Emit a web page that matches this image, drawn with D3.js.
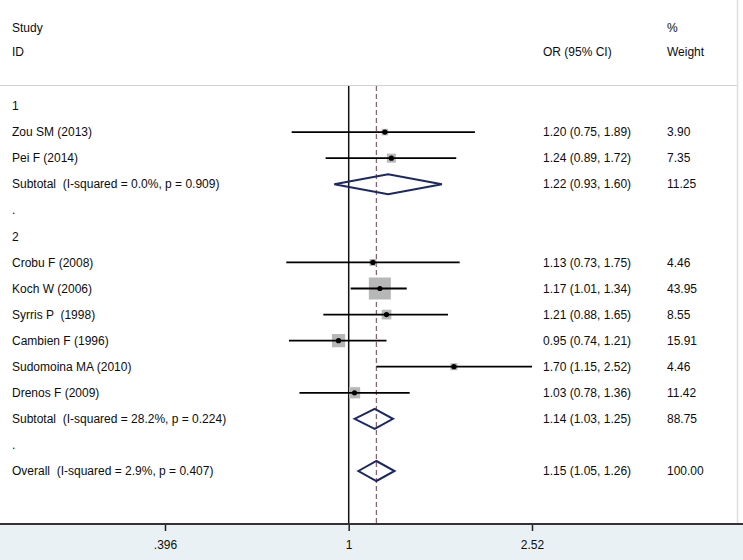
<!DOCTYPE html>
<html>
<head>
<meta charset="utf-8">
<script src="https://cdn.jsdelivr.net/npm/d3@7"></script>
<style>
  html, body { margin: 0; padding: 0; background: #fff; }
  svg text { font-family: "Liberation Sans", Arial, sans-serif; font-size: 12px; fill: #0d0d0d; white-space: pre; }
</style>
</head>
<body>
<div id="chart"></div>
<script>
// forest plot rows, top to bottom
const rowLabels = [
  "1",
  "Zou SM (2013)",
  "Pei F (2014)",
  "Subtotal  (I-squared = 0.0%, p = 0.909)",
  ".",
  "2",
  "Crobu F (2008)",
  "Koch W (2006)",
  "Syrris P  (1998)",
  "Cambien F (1996)",
  "Sudomoina MA (2010)",
  "Drenos F (2009)",
  "Subtotal  (I-squared = 28.2%, p = 0.224)",
  ".",
  "Overall  (I-squared = 2.9%, p = 0.407)"
];
const rowTypes = ["group", "study", "study", "pooled", "blank", "group",
  "study", "study", "study", "study", "study", "study", "pooled", "blank", "pooled"];
const oddsRatio = [null, 1.20, 1.24, 1.22, null, null, 1.13, 1.17, 1.21, 0.95, 1.70, 1.03, 1.14, null, 1.15];
const ciLower   = [null, 0.75, 0.89, 0.93, null, null, 0.73, 1.01, 0.88, 0.74, 1.15, 0.78, 1.03, null, 1.05];
const ciUpper   = [null, 1.89, 1.72, 1.60, null, null, 1.75, 1.34, 1.65, 1.21, 2.52, 1.36, 1.25, null, 1.26];
const weights   = [null, 3.90, 7.35, 11.25, null, null, 4.46, 43.95, 8.55, 15.91, 4.46, 11.42, 88.75, null, 100.00];

const tickValues = [0.396, 1, 2.52];
const tickLabels = [".396", "1", "2.52"];
const overallOR = 1.15;

const W = 743, H = 560;
const axisY = 524;

const rows = rowLabels.map((label, i) => ({
  i, label, type: rowTypes[i], or: oddsRatio[i], lo: ciLower[i], hi: ciUpper[i], w: weights[i]
}));

const svg = d3.select("#chart").append("svg")
  .attr("width", W)
  .attr("height", H);

const x = d3.scaleLog().domain([0.396, 2.52]).range([165, 532]);
const y = d3.scalePoint().domain(d3.range(rows.length)).range([106, 471]);
const boxSide = d3.scaleSqrt().domain([0, 43.95]).range([0, 22]);

// bottom axis panel
svg.append("rect")
  .attr("x", 0).attr("y", axisY).attr("width", W).attr("height", H - axisY)
  .attr("fill", "#e9f1f4");

// header separator and right frame edge
svg.append("line")
  .attr("x1", 0).attr("x2", 737).attr("y1", 85.5).attr("y2", 85.5)
  .attr("stroke", "#cfd2d4").attr("stroke-width", 1.2);
svg.append("line")
  .attr("x1", 737.5).attr("x2", 737.5).attr("y1", 0).attr("y2", axisY)
  .attr("stroke", "#dde0e2").attr("stroke-width", 1.5);

// headers
const hdr = svg.append("g");
hdr.append("text").attr("x", 12).attr("y", 32).text("Study");
hdr.append("text").attr("x", 12).attr("y", 56).text("ID");
hdr.append("text").attr("x", 543).attr("y", 56).text("OR (95% CI)");
hdr.append("text").attr("x", 667).attr("y", 32).text("%");
hdr.append("text").attr("x", 667).attr("y", 56).text("Weight");

// null line and overall line
svg.append("line")
  .attr("x1", x(1)).attr("x2", x(1)).attr("y1", 86).attr("y2", axisY)
  .attr("stroke", "#111").attr("stroke-width", 1.5);
svg.append("line")
  .attr("x1", x(overallOR)).attr("x2", x(overallOR)).attr("y1", 86).attr("y2", axisY)
  .attr("stroke", "#8a6272").attr("stroke-width", 1.3)
  .attr("stroke-dasharray", "5,3");

const studies = rows.filter(d => d.type === "study");
const pooled = rows.filter(d => d.type === "pooled");

// weight boxes
svg.append("g").selectAll("rect")
  .data(studies)
  .join("rect")
  .attr("x", d => x(d.or) - boxSide(d.w) / 2)
  .attr("y", d => y(d.i) - boxSide(d.w) / 2)
  .attr("width", d => boxSide(d.w))
  .attr("height", d => boxSide(d.w))
  .attr("fill", "#b7b7b7");

// CI lines
svg.append("g").selectAll("line")
  .data(studies)
  .join("line")
  .attr("x1", d => x(d.lo))
  .attr("x2", d => x(d.hi))
  .attr("y1", d => y(d.i))
  .attr("y2", d => y(d.i))
  .attr("stroke", "#000")
  .attr("stroke-width", 1.8);

// point estimates
svg.append("g").selectAll("circle")
  .data(studies)
  .join("circle")
  .attr("cx", d => x(d.or))
  .attr("cy", d => y(d.i))
  .attr("r", 2.6)
  .attr("fill", "#000");

// pooled diamonds
svg.append("g").selectAll("path")
  .data(pooled)
  .join("path")
  .attr("d", d => {
    const cy = y(d.i);
    return `M${x(d.lo)},${cy}L${x(d.or)},${cy - 10}L${x(d.hi)},${cy}L${x(d.or)},${cy + 10}Z`;
  })
  .attr("fill", "none")
  .attr("stroke", "#1b2766")
  .attr("stroke-width", 2);

// row labels
svg.append("g").selectAll("text")
  .data(rows)
  .join("text")
  .attr("x", 12)
  .attr("y", d => y(d.i))
  .attr("dy", "0.35em")
  .text(d => d.label);

// estimate text and weights
const withValues = rows.filter(d => d.or !== null);
svg.append("g").selectAll("text")
  .data(withValues)
  .join("text")
  .attr("x", 543)
  .attr("y", d => y(d.i))
  .attr("dy", "0.35em")
  .text(d => `${d.or.toFixed(2)} (${d.lo.toFixed(2)}, ${d.hi.toFixed(2)})`);
svg.append("g").selectAll("text")
  .data(withValues)
  .join("text")
  .attr("x", 667)
  .attr("y", d => y(d.i))
  .attr("dy", "0.35em")
  .text(d => d.w.toFixed(2));

// x axis
const axis = d3.axisBottom(x)
  .tickValues(tickValues)
  .tickFormat((d, i) => tickLabels[i])
  .tickSize(7)
  .tickPadding(9);
const gx = svg.append("g")
  .attr("transform", `translate(0,${axisY})`)
  .call(axis);
gx.select(".domain").remove();
gx.append("line")
  .attr("x1", 0).attr("x2", W).attr("y1", 0).attr("y2", 0)
  .attr("stroke", "#333").attr("stroke-width", 2);
gx.selectAll(".tick line").attr("stroke", "#222").attr("stroke-width", 1.5);
gx.selectAll(".tick text")
  .attr("fill", "#0d0d0d")
  .style("font-size", "12px")
  .style("font-family", "\"Liberation Sans\", Arial, sans-serif");
</script>
</body>
</html>
